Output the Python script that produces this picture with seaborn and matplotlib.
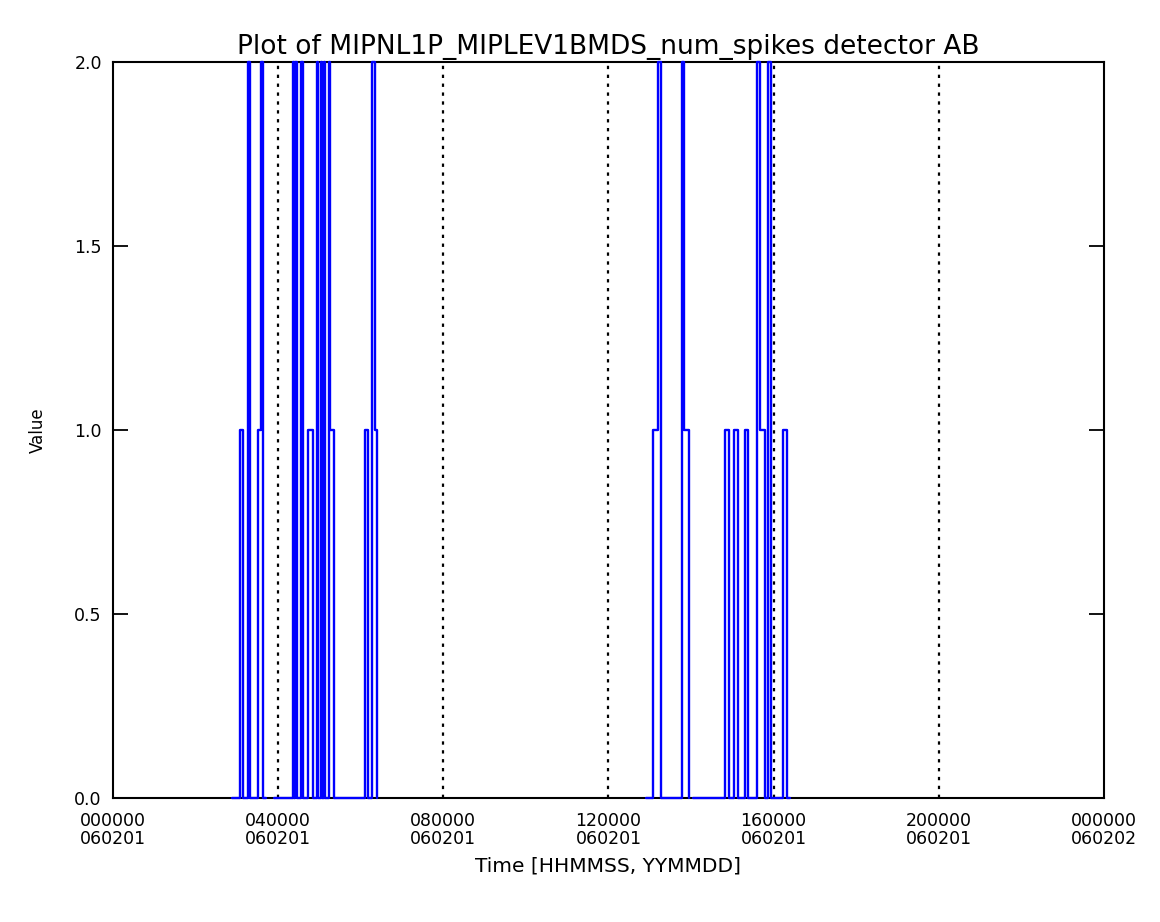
import matplotlib
matplotlib.use("Agg")
import matplotlib.pyplot as plt
import seaborn as sns
import pandas as pd

# spike counts: time in hours since 000000 060201,
# value held until the next time (step plot); each segment ends where data stops
seg1_t = [2.88, 3.08, 3.16, 3.27, 3.32, 3.51, 3.58, 3.63, 3.71]
seg1_v = [0, 1, 0, 2, 0, 1, 2, 0, 0]
seg2_t = [3.90, 4.36, 4.38, 4.41, 4.46, 4.55, 4.59, 4.72, 4.84, 4.94, 4.96,
          5.03, 5.05, 5.11, 5.13, 5.23, 5.25, 5.35, 6.10, 6.18, 6.27, 6.35, 6.40]
seg2_v = [0, 2, 0, 2, 0, 2, 0, 1, 0, 2, 0,
          2, 0, 2, 0, 2, 1, 0, 1, 0, 2, 1, 0]
seg3_t = [12.91, 13.08, 13.20, 13.27, 13.78, 13.83, 13.95]
seg3_v = [0, 1, 2, 0, 2, 1, 0]
seg4_t = [14.05, 14.82, 14.92, 15.04, 15.14, 15.31, 15.38, 15.60, 15.67,
          15.79, 15.86, 15.94, 16.23, 16.32, 16.40]
seg4_v = [0, 1, 0, 1, 0, 1, 0, 2, 1,
          0, 2, 0, 1, 0, 0]

tick_hours = [0, 4, 8, 12, 16, 20, 24]
tick_labels = ["000000\n060201", "040000\n060201", "080000\n060201",
               "120000\n060201", "160000\n060201", "200000\n060201",
               "000000\n060202"]
grid_hours = [4, 8, 12, 16, 20]

frames = []
for i, (t, v) in enumerate([(seg1_t, seg1_v), (seg2_t, seg2_v),
                            (seg3_t, seg3_v), (seg4_t, seg4_v)]):
    frames.append(pd.DataFrame({"time": t, "value": v, "seg": i}))
df = pd.concat(frames, ignore_index=True)

sns.set_style("white")
plt.rcParams["font.family"] = ["DejaVu Sans"]
plt.rcParams["text.color"] = "black"
plt.rcParams["xtick.color"] = "black"
plt.rcParams["ytick.color"] = "black"
plt.rcParams["axes.labelcolor"] = "black"

fig = plt.figure(figsize=(11.6, 9.22), dpi=100)
ax = fig.add_axes([0.0974, 0.1345, 0.8543, 0.7983])

for h in grid_hours:
    ax.axvline(h, color="black", linestyle=(0, (1.5, 2.5)), linewidth=1.6, zorder=1)

sns.lineplot(data=df, x="time", y="value", units="seg", estimator=None,
             sort=False, color="#0000ff", linewidth=1.7,
             drawstyle="steps-post", ax=ax, legend=False)
for ln in ax.lines[len(grid_hours):]:
    ln.set_clip_on(False)
    ln.set_zorder(4)

ax.set_xlim(0, 24)
ax.set_ylim(0, 2)
ax.set_xticks(tick_hours)
ax.set_xticklabels(tick_labels, fontsize=12.5, linespacing=1.0)
ax.set_yticks([0, 0.5, 1.0, 1.5, 2.0])
ax.set_yticklabels(["0.0", "0.5", "1.0", "1.5", "2.0"], fontsize=12.5)
ax.tick_params(axis="x", length=0, pad=10)
ax.tick_params(axis="y", direction="in", length=11, width=1.3, right=True,
               left=True, pad=8)
for s in ax.spines.values():
    s.set_color("black")
    s.set_linewidth(1.5)
    s.set_zorder(3)

ax.set_title("Plot of MIPNL1P_MIPLEV1BMDS_num_spikes detector AB",
             fontsize=19, pad=6)
ax.set_xlabel("Time [HHMMSS, YYMMDD]", fontsize=14.5, labelpad=6)
ax.set_ylabel("Value", fontsize=12, labelpad=20)

fig.savefig("out.png", dpi=100)
